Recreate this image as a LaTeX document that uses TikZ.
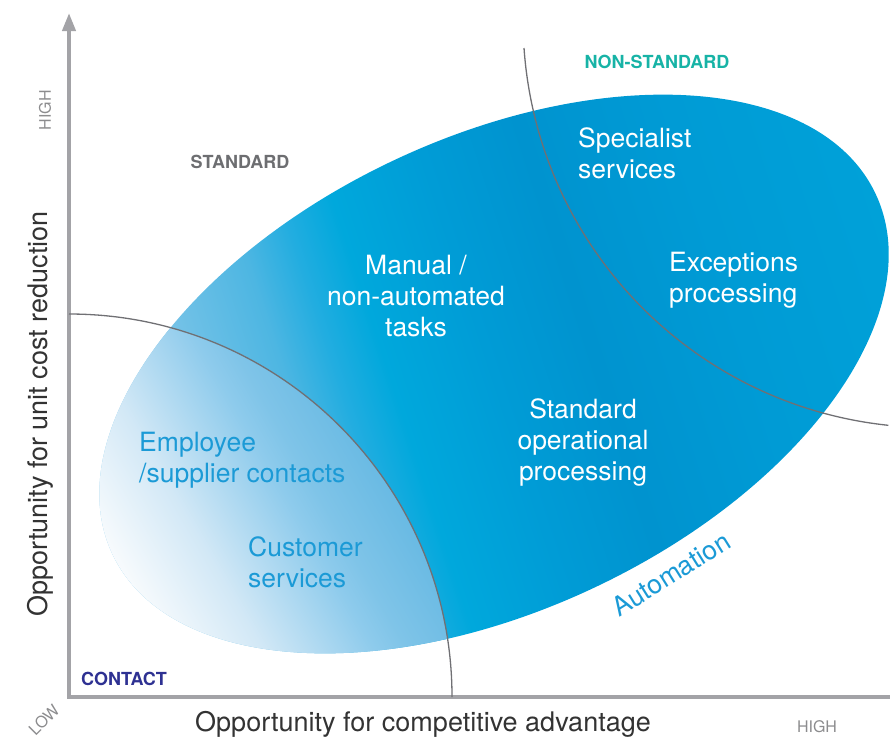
\documentclass[tikz,border=0pt]{standalone}
\usepackage{fontspec}
\setmainfont{TeX Gyre Heros}
\usetikzlibrary{arrows.meta}

\definecolor{axisgrey}{HTML}{A3A3A7}
\definecolor{tickgrey}{HTML}{8C8C8E}
\definecolor{zonegrey}{HTML}{6D6E71}
\definecolor{zoneteal}{HTML}{17B3A6}
\definecolor{zonenavy}{HTML}{2E3192}
\definecolor{labelblue}{HTML}{1B9AD6}
\definecolor{axistext}{HTML}{333333}
\definecolor{divgrey}{HTML}{707074}
% oval, outside the contact zone
\definecolor{ovalA}{HTML}{8ECDEC}
\definecolor{ovalB}{HTML}{74C2E7}
\definecolor{ovalC}{HTML}{4DB6E2}
\definecolor{ovalD}{HTML}{22ADE0}
\definecolor{ovalE}{HTML}{00A8DC}
\definecolor{ovalF}{HTML}{009CD6}
\definecolor{ovalG}{HTML}{0093CF}
\definecolor{ovalH}{HTML}{009BD5}
\definecolor{ovalI}{HTML}{00A2D9}
% oval, inside the contact zone
\definecolor{fadeA}{HTML}{FFFFFF}
\definecolor{fadeB}{HTML}{F8FBFD}
\definecolor{fadeC}{HTML}{D2E8F6}
\definecolor{fadeD}{HTML}{8ECBEC}
\definecolor{fadeE}{HTML}{7FC4E8}
\definecolor{fadeF}{HTML}{62B7E2}
\definecolor{fadeG}{HTML}{55B2DF}

\pgfdeclarehorizontalshading{ovalblue}{100bp}{color(0bp)=(ovalA); color(25bp)=(ovalA);
  color(33.89bp)=(ovalB); color(38.89bp)=(ovalC); color(41.67bp)=(ovalD);
  color(44.44bp)=(ovalE); color(50bp)=(ovalF); color(55.56bp)=(ovalG);
  color(63.89bp)=(ovalH); color(75bp)=(ovalI); color(100bp)=(ovalI)}
\pgfdeclarehorizontalshading{contactfade}{100bp}{color(0bp)=(fadeA); color(25.56bp)=(fadeA);
  color(26.39bp)=(fadeB); color(31.11bp)=(fadeC); color(36.5bp)=(fadeD);
  color(38.11bp)=(fadeE); color(42.94bp)=(fadeF); color(50bp)=(fadeG);
  color(100bp)=(fadeG)}

\newcommand{\bigsize}{\fontsize{26.5}{31}\selectfont}
\newcommand{\zonesize}{\fontsize{18}{20}\selectfont\bfseries}

\begin{document}
\begin{tikzpicture}[x=1pt, y=-1pt]
  \tikzset{
    axisline/.style={draw=axisgrey, line width=4pt},
    divider/.style={draw=divgrey, line width=1.3pt},
    tick/.style={text=tickgrey, font=\fontsize{16}{18}\selectfont, inner sep=0pt},
    zone/.style={font=\zonesize, inner sep=0pt},
    inner/.style={text=white, font=\bigsize, inner sep=0pt},
    outer/.style={text=labelblue, font=\bigsize, inner sep=0pt, align=left},
    axislabel/.style={text=axistext, font=\fontsize{27}{30}\selectfont, inner sep=0pt}
  }
  \useasboundingbox (0,0) rectangle (890,740);

  \begin{scope}
    \clip[rotate around={25.3:(494,374)}] (494,374) ellipse [x radius=422pt, y radius=236pt];
    \shade[shading=ovalblue, shading angle=18] (44,-76) rectangle (944,824);
    \clip (69,697) circle [radius=383pt];
    \shade[shading=contactfade, shading angle=30] (44,-76) rectangle (944,824);
  \end{scope}

  \coordinate (origin) at (69,697);
  \coordinate (xend) at (890,697);
  \coordinate (ytop) at (69,13);
  \draw[axisline, -{Triangle[width=13pt, length=18pt]}] (xend) -- (origin) -- (ytop);

  \draw[divider] (69,314) arc [start angle=90, end angle=0, radius=383pt];
  \draw[divider] (524,48) arc [start angle=184, end angle=264, radius=408pt];

  \node[tick, rotate=90] (yhigh) at (45,110) {HIGH};
  \node[tick, rotate=45] (low) at (44,720) {LOW};
  \node[tick] (xhigh) at (817,727) {HIGH};

  \node[zone, text=zonegrey] (standard) at (240,162) {STANDARD};
  \node[zone, text=zoneteal] (nonstandard) at (657,62) {NON-STANDARD};
  \node[zone, text=zonenavy] (contact) at (124,679) {CONTACT};

  \node[inner, anchor=west, align=left] (specialist) at (578,153) {Specialist\\services};
  \node[inner, anchor=west, align=left] (exceptions) at (669,280) {Exceptions\\processing};
  \node[inner, align=center] (manual) at (416,296) {Manual /\\non-automated\\tasks};
  \node[inner, align=center] (operational) at (583,442) {Standard\\operational\\processing};

  \node[outer, anchor=west] (employee) at (139,460) {Employee\\/supplier contacts};
  \node[outer, anchor=west] (customer) at (248,562) {Customer\\services};
  \node[outer, rotate=32] (automation) at (671,574) {Automation};

  \node[axislabel] (xlabel) at (423,724) {Opportunity for competitive advantage};
  \node[axislabel, rotate=90] (ylabel) at (40,414) {Opportunity for unit cost reduction};
\end{tikzpicture}
\end{document}
